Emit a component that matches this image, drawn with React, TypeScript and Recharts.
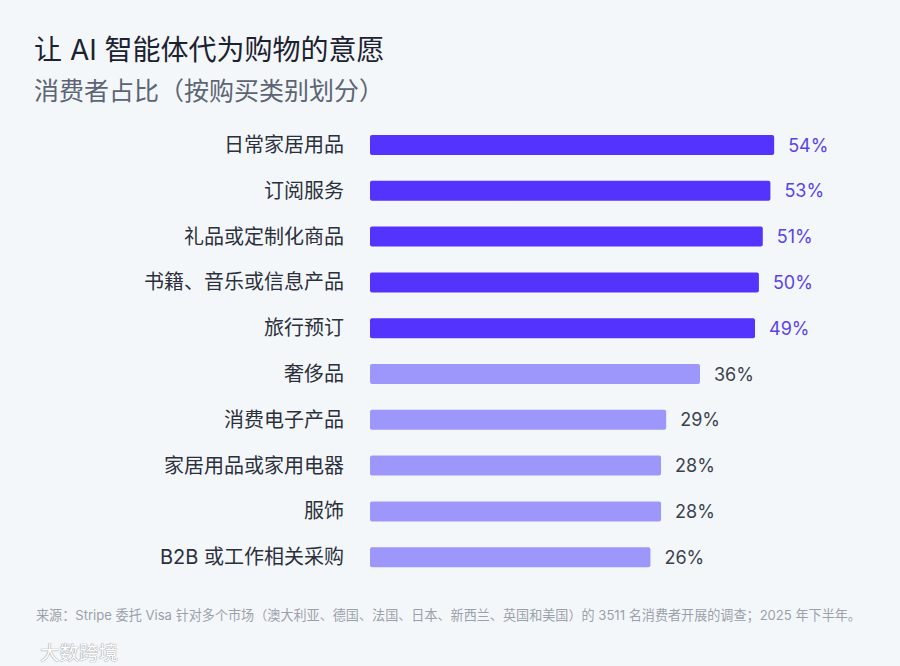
import { BarChart, Bar, XAxis, YAxis, Cell, LabelList } from 'recharts';

const categories = [
  '日常家居用品',
  '订阅服务',
  '礼品或定制化商品',
  '书籍、音乐或信息产品',
  '旅行预订',
  '奢侈品',
  '消费电子产品',
  '家居用品或家用电器',
  '服饰',
  'B2B 或工作相关采购',
];
const shares = [54, 53, 51, 50, 49, 36, 29, 28, 28, 26];
// the first five rows are drawn in the strong colour
const highlighted = [true, true, true, true, true, false, false, false, false, false];

const STRONG = '#5533ff';
const SOFT = '#9d97fb';
const STRONG_TEXT = '#5a43e6';
const SOFT_TEXT = '#3c424d';
const FONT = "Inter, 'Noto Sans CJK SC', sans-serif";

const data = categories.map((name, i) => ({ name, value: shares[i], hi: highlighted[i] }));

function ValueLabel(props: any) {
  const { x, y, width, height, value, index } = props;
  const hi = highlighted[index];
  return (
    <text
      x={x + width + 14}
      y={y + height / 2}
      dominantBaseline="central"
      fontSize={18}
      fontFamily={FONT}
      fill={hi ? STRONG_TEXT : SOFT_TEXT}
    >
      {value}%
    </text>
  );
}

export default function App() {
  return (
    <div
      style={{
        position: 'absolute',
        left: 0,
        top: 0,
        width: 900,
        height: 666,
        background: '#f4f7fa',
        fontFamily: FONT,
        overflow: 'hidden',
      }}
    >
      <div style={{ position: 'absolute', left: 34, top: 34, fontSize: 28, color: '#1c2230', lineHeight: 1.2 }}>
        让 AI 智能体代为购物的意愿
      </div>
      <div style={{ position: 'absolute', left: 34, top: 76, fontSize: 25, color: '#5c6573', lineHeight: 1.2 }}>
        消费者占比（按购买类别划分）
      </div>

      <div style={{ position: 'absolute', left: 0, top: 0 }}>
        <BarChart
          width={900}
          height={666}
          data={data}
          layout="vertical"
          margin={{ top: 122, right: 90, bottom: 86, left: 0 }}
        >
          <XAxis type="number" scale="sqrt" domain={[0, 64]} hide />
          <YAxis
            type="category"
            dataKey="name"
            width={370}
            axisLine={false}
            tickLine={false}
            tickSize={0}
            tickMargin={26}
            tick={{ fontSize: 20, fill: '#2b303b', fontFamily: FONT }}
            interval={0}
          />
          <Bar dataKey="value" barSize={20} radius={[2, 2, 2, 2]} isAnimationActive={false}>
            {data.map((d, i) => (
              <Cell key={i} fill={d.hi ? STRONG : SOFT} />
            ))}
            <LabelList dataKey="value" content={ValueLabel} />
          </Bar>
        </BarChart>
      </div>

      <div style={{ position: 'absolute', left: 36, top: 605, fontSize: 13.1, color: '#9ba1aa', whiteSpace: 'nowrap' }}>
        来源：Stripe 委托 Visa 针对多个市场（澳大利亚、德国、法国、日本、新西兰、英国和美国）的 3511 名消费者开展的调查；2025 年下半年。
      </div>
      <div
        style={{
          position: 'absolute',
          left: 40,
          top: 637,
          fontSize: 19.5,
          color: '#ffffff',
          textShadow: '0 0 1px #8a8f96, 0 0 1px #8a8f96',
        }}
      >
        大数跨境
      </div>
    </div>
  );
}
